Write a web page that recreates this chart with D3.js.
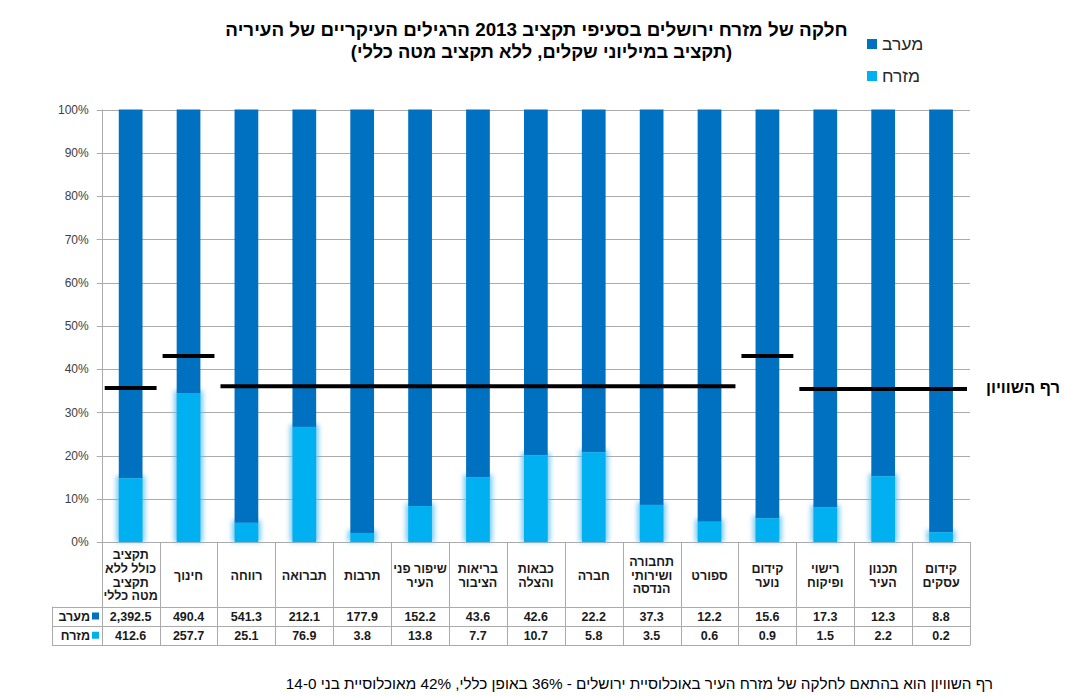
<!DOCTYPE html>
<html lang="he">
<head>
<meta charset="utf-8">
<script src="https://cdn.jsdelivr.net/npm/d3@7/dist/d3.min.js"></script>
<style>
  html, body { margin: 0; padding: 0; background: #fff; }
  svg { display: block; font-family: "Liberation Sans", Arial, sans-serif; }
</style>
</head>
<body>
<svg id="chart" width="1065" height="697"></svg>
<script>
// ---------- data ----------
const categories = [
  "תקציב\nכולל ללא\nתקציב\nמטה כללי",
  "חינוך",
  "רווחה",
  "תברואה",
  "תרבות",
  "שיפור פני\nהעיר",
  "בריאות\nהציבור",
  "כבאות\nוהצלה",
  "חברה",
  "תחבורה\nושירותי\nהנדסה",
  "ספורט",
  "קידום\nנוער",
  "רישוי\nופיקוח",
  "תכנון\nהעיר",
  "קידום\nעסקים"
];
const westValues = [2392.5, 490.4, 541.3, 212.1, 177.9, 152.2, 43.6, 42.6, 22.2, 37.3, 12.2, 15.6, 17.3, 12.3, 8.8];
const eastValues = [412.6, 257.7, 25.1, 76.9, 3.8, 13.8, 7.7, 10.7, 5.8, 3.5, 0.6, 0.9, 1.5, 2.2, 0.2];
const westLabels = ["2,392.5", "490.4", "541.3", "212.1", "177.9", "152.2", "43.6", "42.6", "22.2", "37.3", "12.2", "15.6", "17.3", "12.3", "8.8"];
const eastLabels = ["412.6", "257.7", "25.1", "76.9", "3.8", "13.8", "7.7", "10.7", "5.8", "3.5", "0.6", "0.9", "1.5", "2.2", "0.2"];
// equality threshold (share of east, %) per category, as drawn
const equalityLine = [35.6, 43, 36, 36, 36, 36, 36, 36, 36, 36, 36, 43, 35.4, 35.4, 35.4];
const yTicks = [0, 0.1, 0.2, 0.3, 0.4, 0.5, 0.6, 0.7, 0.8, 0.9, 1.0];
const seriesNames = ["מערב", "מזרח"];
const seriesColors = ["#0070C0", "#00B0F0"];
const titleLines = [
  "חלקה של מזרח ירושלים בסעיפי תקציב 2013 הרגילים העיקריים של העיריה",
  "(תקציב במיליוני שקלים, ללא תקציב מטה כללי)"
];
const equalityLabel = "רף השוויון";
const footnote = "רף השוויון הוא בהתאם לחלקה של מזרח העיר באוכלוסיית ירושלים - 36% באופן כללי, 42% מאוכלוסיית בני 0\u200F-\u200F14";

// ---------- layout ----------
const svg = d3.select("#chart");
const plotL = 101.7, plotR = 970, plotT = 109.5, plotB = 542;
const headerB = 606.5, row1B = 625.5, row2B = 645, tableL = 52;
const gridColor = "#ababab";

const x = d3.scaleBand().domain(d3.range(categories.length)).range([plotL, plotR]).paddingInner(0).paddingOuter(0);
const y = d3.scaleLinear().domain([0, 1]).range([plotB, plotT]);
const barW = x.bandwidth() * 0.41;

// glow filter
const defs = svg.append("defs");
const f = defs.append("filter").attr("id", "glow").attr("x", "-50%").attr("y", "-50%").attr("width", "200%").attr("height", "200%");
f.append("feGaussianBlur").attr("stdDeviation", 2.4);

// gridlines
svg.append("g").selectAll("line").data(yTicks).join("line")
  .attr("x1", plotL - 5).attr("x2", plotR)
  .attr("y1", d => Math.round(y(d)) + 0.5).attr("y2", d => Math.round(y(d)) + 0.5)
  .attr("stroke", gridColor).attr("stroke-width", 1);

// y axis
const yAxis = svg.append("g").attr("transform", `translate(${plotL},0)`)
  .call(d3.axisLeft(y).tickValues(yTicks).tickFormat(d3.format(".0%")).tickSize(0).tickPadding(13));
yAxis.select(".domain").remove();
yAxis.selectAll("text").attr("font-size", 12).attr("fill", "#404040")
  .attr("font-family", "'Liberation Sans', Arial, sans-serif");
svg.append("line").attr("x1", Math.round(plotL) + 0.5).attr("x2", Math.round(plotL) + 0.5)
  .attr("y1", plotT).attr("y2", row2B).attr("stroke", gridColor);

// bars
const shares = categories.map((c, i) => {
  const tot = westValues[i] + eastValues[i];
  return { i, east: eastValues[i] / tot, west: westValues[i] / tot };
});
const bars = svg.append("g");
bars.selectAll("rect.glow").data(shares).join("rect").attr("class", "glow")
  .attr("x", d => x(d.i) + (x.bandwidth() - barW) / 2 - 2.5)
  .attr("width", barW + 5)
  .attr("y", d => y(d.east) - 2.5)
  .attr("height", d => y(0) - y(d.east) + 2.5)
  .attr("fill", "#5cbff0").attr("opacity", 0.8).attr("filter", "url(#glow)");
bars.selectAll("rect.west").data(shares).join("rect").attr("class", "west")
  .attr("x", d => x(d.i) + (x.bandwidth() - barW) / 2)
  .attr("width", barW)
  .attr("y", d => y(1))
  .attr("height", d => y(d.east) - y(1))
  .attr("fill", seriesColors[0]);
bars.selectAll("rect.east").data(shares).join("rect").attr("class", "east")
  .attr("x", d => x(d.i) + (x.bandwidth() - barW) / 2)
  .attr("width", barW)
  .attr("y", d => y(d.east))
  .attr("height", d => y(0) - y(d.east))
  .attr("fill", seriesColors[1]);

// equality line: merge runs of equal value
const runs = [];
equalityLine.forEach((v, i) => {
  const last = runs[runs.length - 1];
  if (last && last.v === v && last.end === i - 1) last.end = i;
  else runs.push({ v, start: i, end: i });
});
svg.append("g").selectAll("line").data(runs).join("line")
  .attr("x1", d => x(d.start) + 3)
  .attr("x2", d => x(d.end) + x.bandwidth() - 3)
  .attr("y1", d => y(d.v / 100)).attr("y2", d => y(d.v / 100))
  .attr("stroke", "#000").attr("stroke-width", 4);

svg.append("text").attr("x", 1060).attr("y", y(0.36) + 6.5)
  .attr("text-anchor", "end").attr("font-size", 16.5).attr("font-weight", "bold")
  .attr("fill", "#000").text(equalityLabel);

// ---------- data table ----------
const tbl = svg.append("g");
const bounds = d3.range(categories.length + 1).map(i => i < categories.length ? x(i) : plotR);
tbl.selectAll("line.v").data(bounds.slice(1)).join("line").attr("class", "v")
  .attr("x1", d => Math.round(d) + 0.5).attr("x2", d => Math.round(d) + 0.5)
  .attr("y1", plotB).attr("y2", row2B).attr("stroke", gridColor);
tbl.append("line").attr("x1", tableL + 0.5).attr("x2", tableL + 0.5)
  .attr("y1", headerB).attr("y2", row2B).attr("stroke", gridColor);
[headerB, row1B, row2B].forEach(yy => {
  tbl.append("line").attr("x1", tableL).attr("x2", plotR + 0.5)
    .attr("y1", Math.round(yy) + 0.5).attr("y2", Math.round(yy) + 0.5).attr("stroke", gridColor);
});

// header labels
const lineH = 13.7;
categories.forEach((c, i) => {
  const lines = c.split("\n");
  const cy = (plotB + headerB) / 2 + 1;
  const t = tbl.append("text").attr("text-anchor", "middle")
    .attr("font-size", 12.5).attr("font-weight", "bold").attr("fill", "#1a1a1a");
  lines.forEach((ln, k) => {
    t.append("tspan").attr("x", x(i) + x.bandwidth() / 2)
      .attr("y", cy + (k - (lines.length - 1) / 2) * lineH + 4.5)
      .text(ln);
  });
});
// values
const rowDefs = [
  { labels: westLabels, top: headerB, bot: row1B },
  { labels: eastLabels, top: row1B, bot: row2B }
];
rowDefs.forEach((r, ri) => {
  tbl.selectAll(null).data(r.labels).join("text")
    .attr("x", (d, i) => x(i) + x.bandwidth() / 2)
    .attr("y", (r.top + r.bot) / 2 + 4.5)
    .attr("text-anchor", "middle").attr("font-size", 12.5).attr("font-weight", "bold")
    .attr("fill", "#1a1a1a").text(d => d);
  tbl.append("rect").attr("x", 92).attr("y", (r.top + r.bot) / 2 - 3.5)
    .attr("width", 7).attr("height", 7).attr("fill", seriesColors[ri]);
  tbl.append("text").attr("x", 90).attr("y", (r.top + r.bot) / 2 + 4.5)
    .attr("text-anchor", "end").attr("font-size", 12.5).attr("font-weight", "bold")
    .attr("fill", "#1a1a1a").text(seriesNames[ri]);
});

// ---------- title ----------
svg.append("text").attr("x", 536.5).attr("y", 36).attr("text-anchor", "middle")
  .attr("font-size", 18.8).attr("font-weight", "bold").attr("fill", "#000")
  .attr("direction", "rtl").text(titleLines[0]);
svg.append("text").attr("x", 541.5).attr("y", 58).attr("text-anchor", "middle")
  .attr("font-size", 18.3).attr("font-weight", "bold").attr("fill", "#000")
  .attr("direction", "rtl").text(titleLines[1]);

// ---------- legend ----------
const lg = svg.append("g");
seriesNames.forEach((n, i) => {
  lg.append("rect").attr("x", 867).attr("y", 39 + i * 32).attr("width", 10).attr("height", 10)
    .attr("fill", seriesColors[i]);
  lg.append("text").attr("x", 882).attr("y", 50 + i * 32).attr("font-size", 17.5)
    .attr("fill", "#262626").text(n);
});

// ---------- footnote ----------
svg.append("text").attr("x", 993).attr("y", 689).attr("text-anchor", "start")
  .attr("direction", "rtl").attr("font-size", 15.3).attr("fill", "#000")
  .text(footnote);
</script>
</body>
</html>
